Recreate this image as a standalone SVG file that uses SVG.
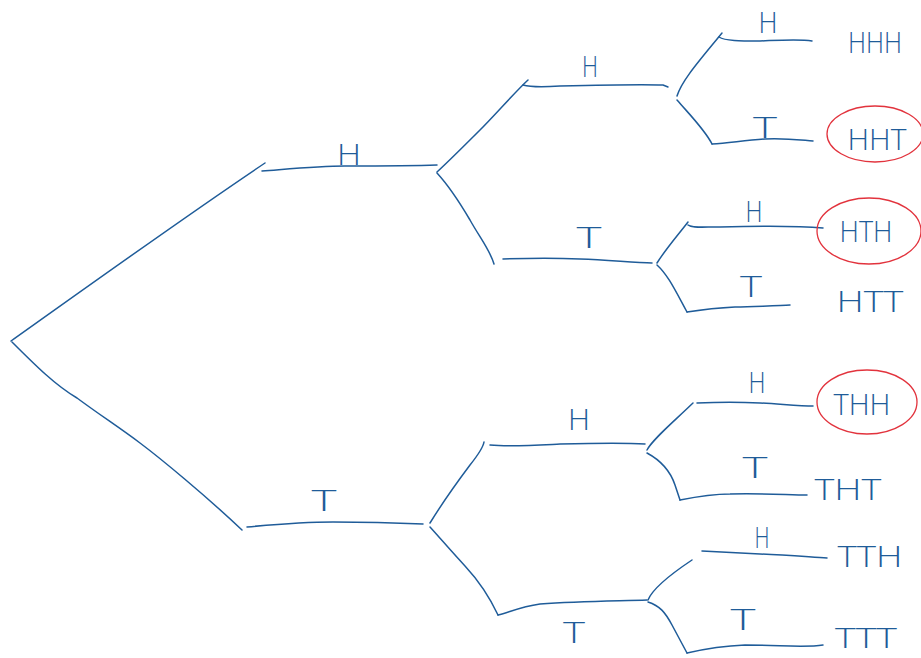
<svg xmlns="http://www.w3.org/2000/svg" width="921" height="658" viewBox="0 0 921 658">
<style>
.e{fill:none;stroke:#1f5c99;stroke-width:1.5;stroke-linecap:round;stroke-linejoin:round}
.c{fill:none;stroke:#e2333d;stroke-width:1.3}
.l{font-family:"Open Sans","Liberation Sans",sans-serif;font-weight:300;fill:#1f5c99;text-anchor:middle}
.s{font-size:30px}
.o{font-size:29px}
</style>
<rect width="921" height="658" fill="#ffffff"/>
<g id="connectors">
<path class="e" d="M11,341 C80,292 180,220 265,163"/>
<path class="e" d="M12,342 C35,365 55,385 77,398 C100,415 120,428 140,443 C160,458 205,495 242,530"/>
<path class="e" d="M262,171 C300,168 320,166 345,166 C380,166 410,166 437,165"/>
<path class="e" d="M247,527 C280,524 310,522 333,522 C370,522 400,523 423,524"/>
<path class="e" d="M437,172 C450,160 465,145 480,130 C495,115 515,92 528,80"/>
<path class="e" d="M437,173 C448,185 460,203 470,220 C480,238 490,250 494,264"/>
<path class="e" d="M523,85 C530,87 545,87 560,86 C600,85 640,84 663,85 L668,87"/>
<path class="e" d="M503,259 C530,258 560,258 580,259 C610,260 635,263 652,263"/>
<path class="e" d="M677,96 C682,80 700,60 722,33"/>
<path class="e" d="M677,100 C690,115 705,130 712,144"/>
<path class="e" d="M719,37 C725,41 740,41 760,41 C785,40 800,39 812,41"/>
<path class="e" d="M712,144 C730,143 745,140 765,139 C785,138 800,140 813,141"/>
<path class="e" d="M657,263 C665,250 678,235 688,222"/>
<path class="e" d="M657,265 C668,275 675,290 687,312"/>
<path class="e" d="M688,225 C692,228 700,227 720,227 C760,226 800,226 823,228"/>
<path class="e" d="M687,312 C700,310 715,308 735,307 C760,306 780,306 790,305"/>
<path class="e" d="M430,523 C438,510 455,485 470,465 C478,455 483,448 484,442"/>
<path class="e" d="M430,527 C440,538 452,552 465,566 C478,580 490,598 498,615"/>
<path class="e" d="M490,445 C510,447 540,445 560,444 C600,443 630,443 645,444"/>
<path class="e" d="M498,615 C510,612 520,607 540,604 C580,601 620,601 647,600"/>
<path class="e" d="M647,450 C652,440 670,425 693,403"/>
<path class="e" d="M647,453 C660,460 670,470 675,485 L680,500"/>
<path class="e" d="M697,403 C720,402 740,402 760,403 C780,404 800,406 813,406"/>
<path class="e" d="M680,500 C695,497 710,494 730,494 C760,493 790,495 807,495"/>
<path class="e" d="M648,600 C652,590 665,578 692,560"/>
<path class="e" d="M648,602 C660,606 665,612 672,625 L687,653"/>
<path class="e" d="M702,551 C720,552 740,553 760,554 C785,555 810,557 827,558"/>
<path class="e" d="M687,653 C700,650 720,646 745,645 C780,645 805,648 823,645"/>
</g>
<g id="labels">
<text class="l s" x="349" y="165" textLength="24" lengthAdjust="spacingAndGlyphs">H</text>
<text class="l s" x="324" y="511" textLength="25" lengthAdjust="spacingAndGlyphs">T</text>
<text class="l s" x="590" y="77" textLength="16" lengthAdjust="spacingAndGlyphs">H</text>
<text class="l s" x="589" y="248" textLength="25" lengthAdjust="spacingAndGlyphs">T</text>
<text class="l s" x="768" y="33" textLength="19" lengthAdjust="spacingAndGlyphs">H</text>
<text class="l s" x="765" y="138" textLength="24" lengthAdjust="spacingAndGlyphs">T</text>
<text class="l s" x="754" y="222" textLength="17" lengthAdjust="spacingAndGlyphs">H</text>
<text class="l s" x="751" y="297" textLength="22" lengthAdjust="spacingAndGlyphs">T</text>
<text class="l s" x="579" y="430" textLength="22" lengthAdjust="spacingAndGlyphs">H</text>
<text class="l s" x="574" y="643" textLength="22" lengthAdjust="spacingAndGlyphs">T</text>
<text class="l s" x="757" y="393" textLength="17" lengthAdjust="spacingAndGlyphs">H</text>
<text class="l s" x="755" y="478" textLength="25" lengthAdjust="spacingAndGlyphs">T</text>
<text class="l s" x="762" y="548" textLength="15" lengthAdjust="spacingAndGlyphs">H</text>
<text class="l s" x="743" y="630" textLength="25" lengthAdjust="spacingAndGlyphs">T</text>
</g>
<g id="HHH"><text class="l o" x="875" y="53" textLength="54" lengthAdjust="spacingAndGlyphs">HHH</text></g>
<g id="HHT"><ellipse class="c" cx="875" cy="134" rx="48" ry="28"/><text class="l o" x="877" y="150" textLength="59" lengthAdjust="spacingAndGlyphs">HHT</text></g>
<g id="HTH"><ellipse class="c" cx="869" cy="231" rx="52" ry="33"/><text class="l o" x="866" y="242" textLength="53" lengthAdjust="spacingAndGlyphs">HTH</text></g>
<g id="HTT"><text class="l o" x="870" y="312" textLength="67" lengthAdjust="spacingAndGlyphs">HTT</text></g>
<g id="THH"><ellipse class="c" cx="867" cy="402" rx="50" ry="32"/><text class="l o" x="862" y="415" textLength="57" lengthAdjust="spacingAndGlyphs">THH</text></g>
<g id="THT"><text class="l o" x="848" y="500" textLength="67" lengthAdjust="spacingAndGlyphs">THT</text></g>
<g id="TTH"><text class="l o" x="870" y="567" textLength="65" lengthAdjust="spacingAndGlyphs">TTH</text></g>
<g id="TTT"><text class="l" x="866" y="648" font-size="27" textLength="62" lengthAdjust="spacingAndGlyphs">TTT</text></g>
</svg>
